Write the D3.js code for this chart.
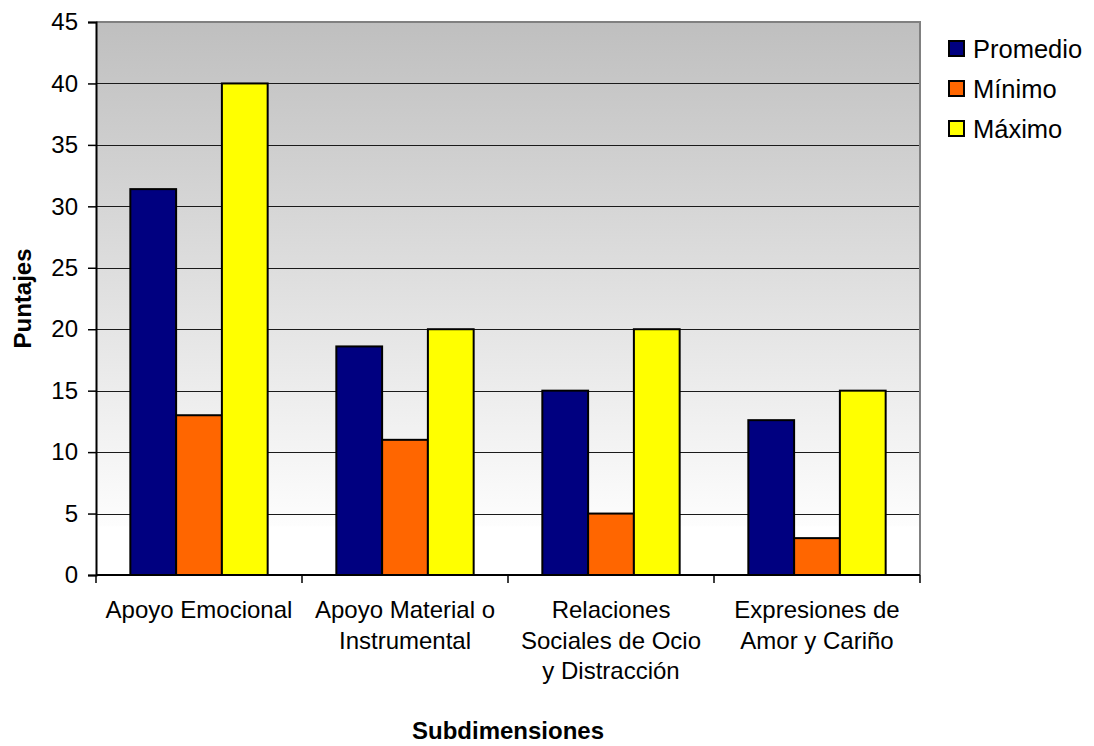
<!DOCTYPE html>
<html>
<head>
<meta charset="utf-8">
<script src="https://cdn.jsdelivr.net/npm/d3@7"></script>
<style>
  html, body { margin: 0; padding: 0; background: #fff; }
  svg { display: block; font-family: "Liberation Sans", Arial, sans-serif; }
</style>
</head>
<body>
<svg id="chart" width="1094" height="746"></svg>
<script>
// Subdimension scores: mean, minimum and maximum per category
const categories = [
  ["Apoyo Emocional"],
  ["Apoyo Material o", "Instrumental"],
  ["Relaciones", "Sociales de Ocio", "y Distracción"],
  ["Expresiones de", "Amor y Cariño"]
];
const seriesNames = ["Promedio", "Mínimo", "Máximo"];
const promedio = [31.4, 18.6, 15.0, 12.6];
const minimo = [13, 11, 5, 3];
const maximo = [40, 20, 20, 15];
const yTicks = [0, 5, 10, 15, 20, 25, 30, 35, 40, 45];
const colors = ["#000080", "#FF6600", "#FFFF00"];

const seriesValues = [promedio, minimo, maximo];

const svg = d3.select("#chart");
const margin = { left: 96, top: 22, right: 920, bottom: 575 };

const x = d3.scaleBand()
  .domain(d3.range(categories.length))
  .range([margin.left, margin.right])
  .paddingInner(0).paddingOuter(0);

// Three bars fill the band, with a 150% gap width split on both sides
const barW = x.bandwidth() / 4.5;
const x1 = d3.scaleBand()
  .domain(d3.range(seriesNames.length))
  .range([barW * 0.75, barW * 3.75]);

const y = d3.scaleLinear().domain([0, 45]).range([margin.bottom, margin.top]);

// Plot area background gradient
const defs = svg.append("defs");
const grad = defs.append("linearGradient")
  .attr("id", "plotBg").attr("x1", 0).attr("y1", 0).attr("x2", 0).attr("y2", 1);
grad.append("stop").attr("offset", "0%").attr("stop-color", "#bfbfbf");
grad.append("stop").attr("offset", "91%").attr("stop-color", "#fdfdfd");
grad.append("stop").attr("offset", "91.3%").attr("stop-color", "#ffffff");
grad.append("stop").attr("offset", "100%").attr("stop-color", "#ffffff");

svg.append("rect")
  .attr("x", margin.left).attr("y", margin.top)
  .attr("width", margin.right - margin.left)
  .attr("height", margin.bottom - margin.top)
  .attr("fill", "url(#plotBg)");

// Horizontal gridlines
svg.append("g").selectAll("line")
  .data(yTicks.filter(d => d > 0 && d < 45))
  .join("line")
  .attr("x1", margin.left).attr("x2", margin.right)
  .attr("y1", d => Math.round(y(d)) + 0.5).attr("y2", d => Math.round(y(d)) + 0.5)
  .attr("stroke", "#1a1a1a").attr("stroke-width", 1);

// Plot border (top and right)
svg.append("path")
  .attr("d", `M${margin.left},${margin.top}H${margin.right}V${margin.bottom}`)
  .attr("fill", "none").attr("stroke", "#808080").attr("stroke-width", 2);

// Bars
const groups = svg.append("g").selectAll("g")
  .data(categories.map((c, i) => i))
  .join("g")
  .attr("transform", i => `translate(${x(i)},0)`);

groups.selectAll("rect")
  .data(i => seriesValues.map((vals, s) => ({ s, v: vals[i] })))
  .join("rect")
  .attr("x", d => x1(d.s))
  .attr("y", d => y(d.v))
  .attr("width", x1.bandwidth())
  .attr("height", d => y(0) - y(d.v))
  .attr("fill", d => colors[d.s])
  .attr("stroke", "#000").attr("stroke-width", 2);

// Y axis
const yAxis = d3.axisLeft(y).tickValues(yTicks).tickSize(8).tickPadding(10);
const gy = svg.append("g").attr("transform", `translate(${margin.left},0)`).call(yAxis);
gy.select(".domain").attr("stroke", "#000").attr("stroke-width", 2);
gy.selectAll(".tick line").attr("stroke", "#000").attr("stroke-width", 1.5);
gy.selectAll(".tick text").attr("font-size", 24).attr("fill", "#000")
  .attr("font-family", "Liberation Sans, Arial, sans-serif");

// X axis with ticks at category boundaries
svg.append("line")
  .attr("x1", margin.left).attr("x2", margin.right)
  .attr("y1", margin.bottom).attr("y2", margin.bottom)
  .attr("stroke", "#000").attr("stroke-width", 2);
const boundaries = d3.range(categories.length + 1).map(i => margin.left + i * x.bandwidth());
svg.append("g").selectAll("line")
  .data(boundaries)
  .join("line")
  .attr("x1", d => d).attr("x2", d => d)
  .attr("y1", margin.bottom).attr("y2", margin.bottom + 8)
  .attr("stroke", "#000").attr("stroke-width", 1.5);

// Category labels
const catLabels = svg.append("g").selectAll("text")
  .data(categories)
  .join("text")
  .attr("text-anchor", "middle")
  .attr("font-size", 24)
  .attr("fill", "#000")
  .attr("transform", (d, i) => `translate(${x(i) + x.bandwidth() / 2},618)`);
catLabels.selectAll("tspan")
  .data(d => d)
  .join("tspan")
  .attr("x", 0)
  .attr("y", (d, j) => j * 30.5)
  .text(d => d);

// Axis titles
svg.append("text")
  .attr("x", (margin.left + margin.right) / 2).attr("y", 739)
  .attr("text-anchor", "middle").attr("font-size", 24).attr("font-weight", "bold")
  .text("Subdimensiones");

svg.append("text")
  .attr("transform", `translate(31,${(margin.top + margin.bottom) / 2}) rotate(-90)`)
  .attr("text-anchor", "middle").attr("font-size", 24).attr("font-weight", "bold")
  .text("Puntajes");

// Legend
const legend = svg.append("g").selectAll("g")
  .data(seriesNames)
  .join("g")
  .attr("transform", (d, i) => `translate(949,${49 + i * 40})`);
legend.append("rect")
  .attr("x", 0).attr("y", -8).attr("width", 15).attr("height", 15)
  .attr("fill", (d, i) => colors[i]).attr("stroke", "#000").attr("stroke-width", 2);
legend.append("text")
  .attr("x", 24).attr("y", 8.5)
  .attr("font-size", 25.5).attr("fill", "#000")
  .text(d => d);
</script>
</body>
</html>
